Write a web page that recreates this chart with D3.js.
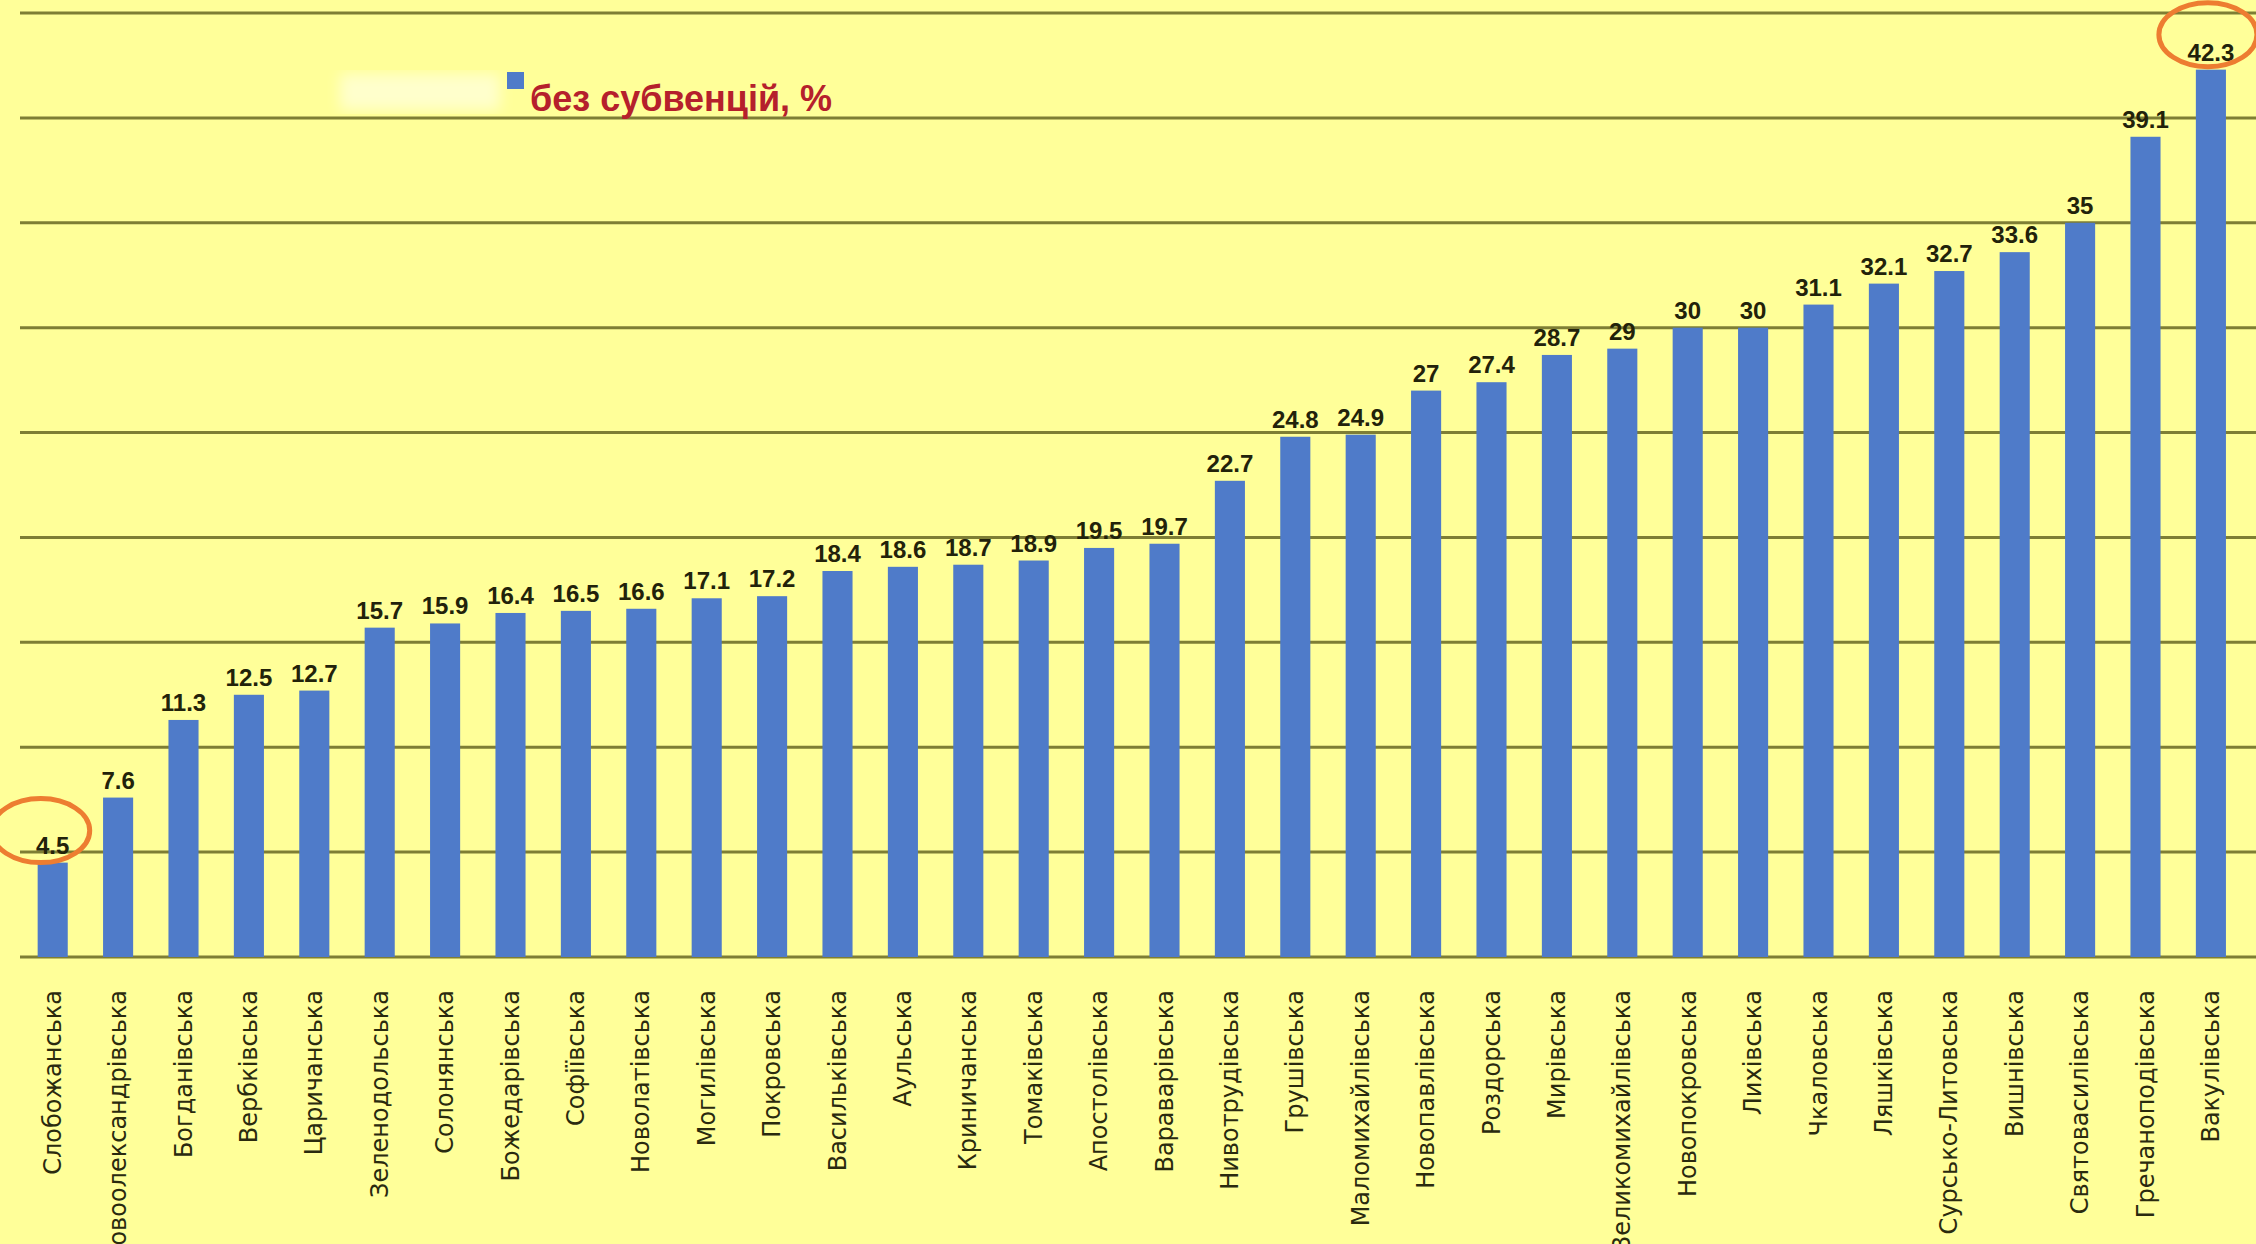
<!DOCTYPE html>
<html>
<head>
<meta charset="utf-8">
<script src="https://cdn.jsdelivr.net/npm/d3@7"></script>
<style>
  body { margin: 0; background: #ffff99; }
  svg { display: block; }
</style>
</head>
<body>
<script>
// hromadas, sorted by own revenue share
var hromady = ['Слобожанська', 'Новоолександрівська', 'Богданівська', 'Вербківська', 'Царичанська',
    'Зеленодольська', 'Солонянська', 'Божедарівська', 'Софіївська', 'Новолатівська', 'Могилівська',
    'Покровська', 'Васильківська', 'Аульська', 'Криничанська', 'Томаківська', 'Апостолівська',
    'Вараварівська', 'Нивотрудівська', 'Грушівська', 'Маломихайлівська', 'Новопавлівська', 'Роздорська',
    'Мирівська', 'Великомихайлівська', 'Новопокровська', 'Лихівська', 'Чкаловська', 'Ляшківська',
    'Сурсько-Литовська', 'Вишнівська', 'Святовасилівська', 'Гречаноподівська', 'Вакулівська'];

// без субвенцій, %
var bezSubv = [4.5, 7.6, 11.3, 12.5, 12.7, 15.7, 15.9, 16.4, 16.5, 16.6, 17.1,
    17.2, 18.4, 18.6, 18.7, 18.9, 19.5, 19.7, 22.7, 24.8, 24.9, 27, 27.4,
    28.7, 29, 30, 30, 31.1, 32.1, 32.7, 33.6, 35, 39.1, 42.3];

var yTicks = [0, 5, 10, 15, 20, 25, 30, 35, 40, 45];
var legendLabel = 'без субвенцій, %';

var width = 2256,
    height = 1244;

var svg = d3.select('body').append('svg')
    .attr('width', width)
    .attr('height', height);

svg.append('rect')
    .attr('width', width)
    .attr('height', height)
    .attr('fill', '#ffff99');

// soft glow behind legend
var defs = svg.append('defs');
defs.append('filter').attr('id', 'blur')
    .append('feGaussianBlur').attr('stdDeviation', 7);

var x = d3.scaleBand()
    .domain(hromady)
    .range([20, 20 + hromady.length * 65.4])
    .paddingInner(0.54)
    .paddingOuter(0.27);

var y = d3.scaleLinear()
    .domain([0, 45])
    .range([957, 13]);

// gridlines
svg.append('g')
    .selectAll('line')
    .data(yTicks)
    .enter().append('line')
    .attr('x1', 20)
    .attr('x2', width)
    .attr('y1', function(d) { return y(d); })
    .attr('y2', function(d) { return y(d); })
    .attr('stroke', '#7e7e34')
    .attr('stroke-width', 3);

// bars
svg.append('g')
    .selectAll('rect')
    .data(bezSubv)
    .enter().append('rect')
    .attr('x', function(d, i) { return x(hromady[i]); })
    .attr('y', function(d) { return y(d); })
    .attr('width', x.bandwidth())
    .attr('height', function(d) { return y(0) - y(d); })
    .attr('fill', '#4f7bc9');

// value labels
svg.append('g')
    .selectAll('text')
    .data(bezSubv)
    .enter().append('text')
    .attr('x', function(d, i) { return x(hromady[i]) + x.bandwidth() / 2; })
    .attr('y', function(d) { return y(d) - 9; })
    .attr('text-anchor', 'middle')
    .attr('font-family', 'Liberation Sans, Arial, sans-serif')
    .attr('font-weight', 'bold')
    .attr('font-size', 24)
    .attr('fill', '#22220a')
    .text(function(d) { return d; });

// category labels, rotated
svg.append('g')
    .selectAll('text')
    .data(hromady)
    .enter().append('text')
    .attr('transform', function(d) {
        return 'translate(' + (x(d) + x.bandwidth() / 2 + 8) + ',990) rotate(-90)';
    })
    .attr('text-anchor', 'end')
    .attr('font-family', 'DejaVu Sans, sans-serif')
    .attr('font-size', 24)
    .attr('fill', '#2a2a0e')
    .text(function(d) { return d; });

// legend
svg.append('rect')
    .attr('x', 340).attr('y', 74)
    .attr('width', 160).attr('height', 36)
    .attr('fill', '#ffffff')
    .attr('opacity', 0.5)
    .attr('filter', 'url(#blur)');

svg.append('rect')
    .attr('x', 507).attr('y', 72)
    .attr('width', 17).attr('height', 17)
    .attr('fill', '#4f7bc9');

svg.append('text')
    .attr('x', 530)
    .attr('y', 111)
    .attr('font-family', 'Liberation Sans, Arial, sans-serif')
    .attr('font-weight', 'bold')
    .attr('font-size', 36)
    .attr('fill', '#b5202c')
    .text(legendLabel);

// orange highlight ellipses on min and max
var first = 0, last = bezSubv.length - 1;
var marks = [
    { cx: x(hromady[first]) + x.bandwidth() / 2 - 12, cy: y(bezSubv[first]) - 32 },
    { cx: x(hromady[last]) + x.bandwidth() / 2 - 3, cy: y(bezSubv[last]) - 35 }
];
svg.append('g')
    .selectAll('ellipse')
    .data(marks)
    .enter().append('ellipse')
    .attr('cx', function(d) { return d.cx; })
    .attr('cy', function(d) { return d.cy; })
    .attr('rx', 49)
    .attr('ry', 32)
    .attr('fill', 'none')
    .attr('stroke', '#ed7d31')
    .attr('stroke-width', 5);
</script>
</body>
</html>
